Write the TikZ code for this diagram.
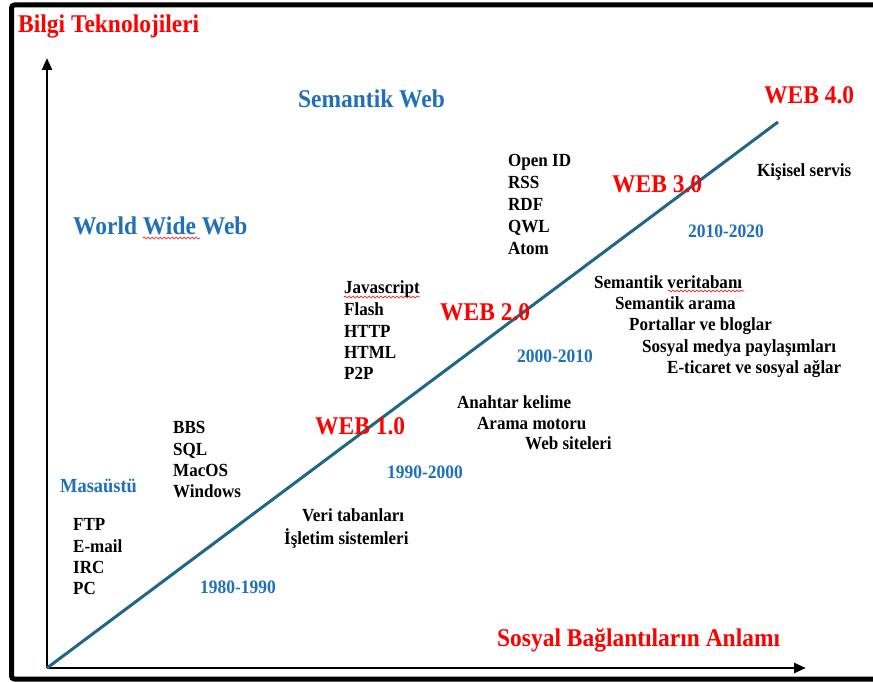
\documentclass[tikz,border=0pt]{standalone}
\usepackage{fontspec}
\setmainfont{Liberation Serif}[FakeStretch=0.92]
\usetikzlibrary{arrows.meta,decorations.pathmorphing}
\definecolor{webred}{RGB}{255,0,0}
\definecolor{eraBlue}{RGB}{31,111,186}
\definecolor{trend}{RGB}{33,102,135}
\tikzset{
  blacktxt/.style={anchor=base west, inner sep=0pt, font=\fontsize{18.5}{22}\selectfont\bfseries},
  webtxt/.style={anchor=base west, inner sep=0pt, text=webred, font=\fontsize{25.5}{30}\selectfont\bfseries},
  bluebig/.style={anchor=base west, inner sep=0pt, text=eraBlue, font=\fontsize{25.5}{30}\selectfont\bfseries},
  bluesmall/.style={anchor=base west, inner sep=0pt, text=eraBlue, font=\fontsize{19}{22}\selectfont\bfseries},
  axis/.style={line width=2.5pt, -{Triangle[length=12pt,width=10pt]}},
  squiggle/.style={webred, line width=0.6pt, decorate, decoration={snake, amplitude=1pt, segment length=4pt}}
}
\begin{document}
\begin{tikzpicture}[x=1pt,y=-1pt]
\useasboundingbox (0,0) rectangle (873,682);
\clip (0,0) rectangle (873,682);
\fill[white] (0,0) rectangle (873,682);
% outer frame (runs past the right edge)
\draw[line width=5pt, rounded corners=3pt] (890,5) -- (11.5,5) -- (11.5,679) -- (890,679);

% axes and trend line
\coordinate (O) at (47,668);
\coordinate (ytip) at (47,58);
\coordinate (xtip) at (806,668);
\coordinate (top) at (778,122);
\draw[axis] (O) -- (ytip);
\draw[axis] (O) -- (xtip);
\draw[trend, line width=3pt] (O) -- (top);

% axis titles
\node[webtxt] (ytitle) at (18,33) {Bilgi Teknolojileri};
\node[webtxt] (xtitle) at (497,646) {Sosyal Bağlantıların Anlamı};

% stages
\node[webtxt] (w4) at (764,104) {WEB 4.0};
\node[webtxt] (w3) at (612,193) {WEB 3.0};
\node[webtxt] (w2) at (440,320) {WEB 2.0};
\node[webtxt] (w1) at (315,434) {WEB 1.0};

% eras
\node[bluebig] (sw) at (298,108) {Semantik Web};
\node[bluebig] (www) at (73,234) {World Wide Web};
\node[bluesmall, font=\fontsize{20}{22}\selectfont\bfseries] (desk) at (60,492) {Masaüstü};
\node[bluesmall] (y4) at (688,237) {2010-2020};
\node[bluesmall] (y3) at (517,362) {2000-2010};
\node[bluesmall] (y2) at (387,478) {1990-2000};
\node[bluesmall] (y1) at (200,593) {1980-1990};

% technologies
\node[blacktxt] (kis) at (757,176) {Kişisel servis};

\node[blacktxt] (oid) at (508,167) {Open ID};
\node[blacktxt] (rss) at (508,189) {RSS};
\node[blacktxt] (rdf) at (508,211) {RDF};
\node[blacktxt] (qwl) at (508,232) {QWL};
\node[blacktxt] (atom) at (508,254) {Atom};

\node[blacktxt] (js) at (344,293) {Javascript};
\node[blacktxt] (fl) at (344,315) {Flash};
\node[blacktxt] (http) at (344,337) {HTTP};
\node[blacktxt] (html) at (344,358) {HTML};
\node[blacktxt] (p2p) at (344,379) {P2P};

\node[blacktxt] (s1) at (594,288) {Semantik veritabanı};
\node[blacktxt] (s2) at (615,309) {Semantik arama};
\node[blacktxt] (s3) at (629,330) {Portallar ve bloglar};
\node[blacktxt] (s4) at (642,352) {Sosyal medya paylaşımları};
\node[blacktxt] (s5) at (667,373) {E-ticaret ve sosyal ağlar};

\node[blacktxt] (a1) at (457,408) {Anahtar kelime};
\node[blacktxt] (a2) at (477,429) {Arama motoru};
\node[blacktxt] (a3) at (525,449) {Web siteleri};

\node[blacktxt] (bbs) at (173,433) {BBS};
\node[blacktxt] (sql) at (173,455) {SQL};
\node[blacktxt] (mac) at (173,476) {MacOS};
\node[blacktxt] (win) at (173,497) {Windows};

\node[blacktxt] (vt) at (302,521) {Veri tabanları};
\node[blacktxt] (is) at (284,544) {İşletim sistemleri};

\node[blacktxt] (ftp) at (73,530) {FTP};
\node[blacktxt] (mail) at (73,552) {E-mail};
\node[blacktxt] (irc) at (73,573) {IRC};
\node[blacktxt] (pc) at (73,594) {PC};

% spell-check underlines
\draw[squiggle] (143,238) -- (200,238);
\draw[squiggle] (344,297) -- (420,297);
\draw[squiggle] (668,291) -- (744,291);
\end{tikzpicture}
\end{document}
